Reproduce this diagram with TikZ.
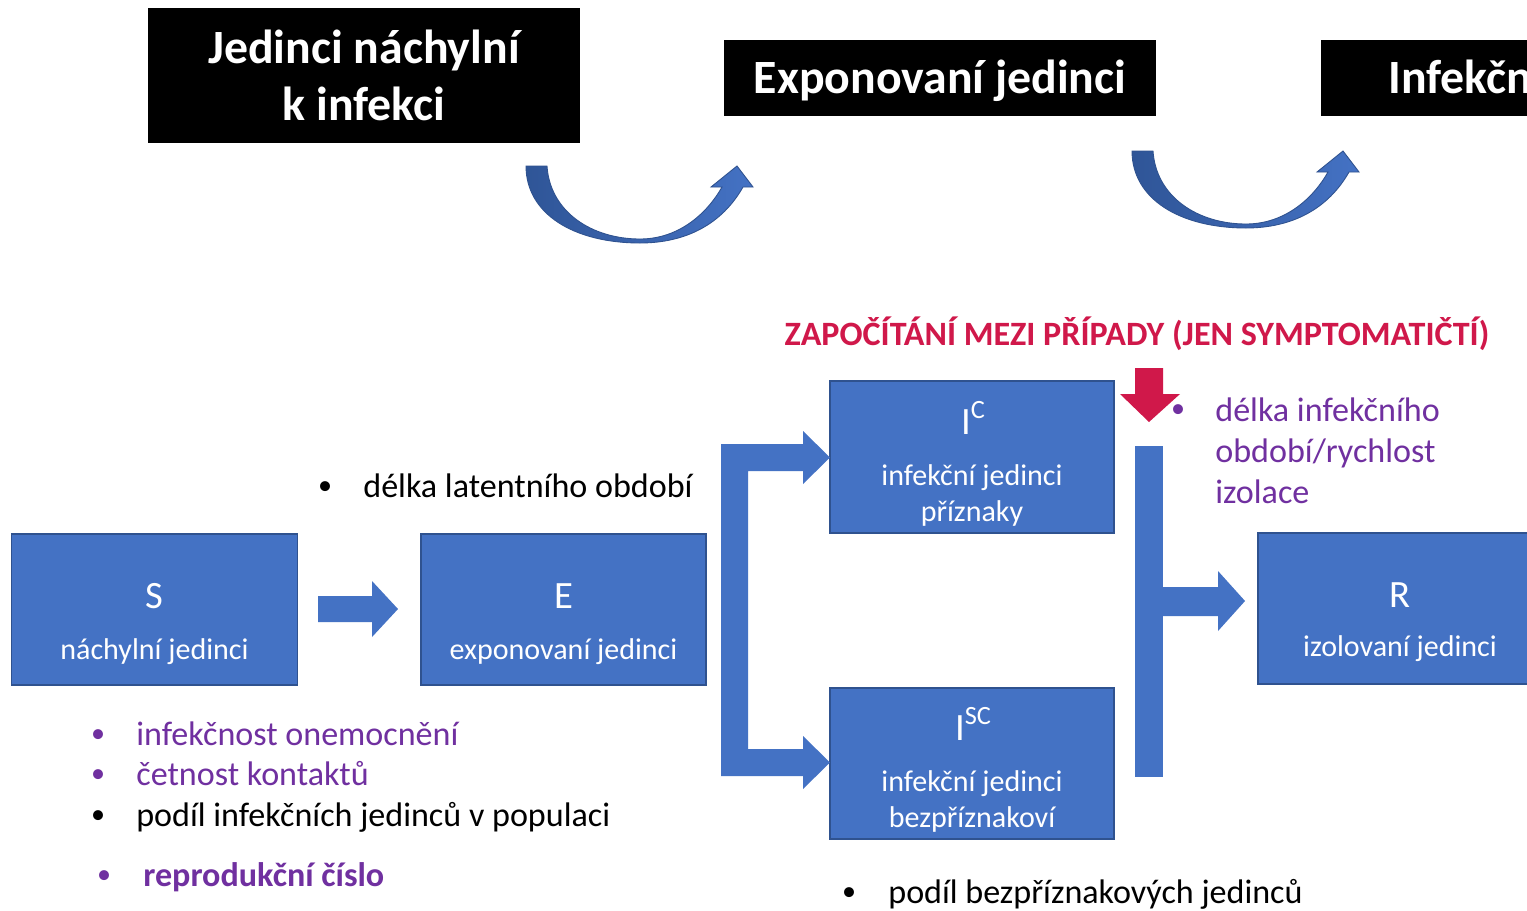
\documentclass[tikz,border=0pt]{standalone}
\usepackage{fontspec}
\setmainfont{Carlito}
\definecolor{boxblue}{HTML}{4472C4}
\definecolor{boxborder}{HTML}{2F528F}
\definecolor{arrowdark}{HTML}{2F5597}
\definecolor{redc}{HTML}{D0184A}
\definecolor{purp}{HTML}{7030A0}
\newcommand\boxfont{\fontsize{17.1}{20}\selectfont}
\newcommand\letterfont{\fontsize{22}{24}\selectfont}
\newcommand\supfont{\fontsize{15}{16}\selectfont}
\newcommand\sidefont{\fontsize{19.4}{23}\selectfont}
\newcommand\bulfont{\fontsize{16}{20}\selectfont}
\newcommand\titlefont{\fontsize{27.2}{32}\selectfont\bfseries}
\newcommand\supc[1]{\raisebox{0.4em}{\supfont #1}}
\tikzset{
  sirbox/.style={draw=boxborder, fill=boxblue, line width=0.8pt, inner sep=0pt},
  blackbox/.style={fill=black, inner sep=0pt},
  boxtext/.style={text=white, font=\boxfont, inner sep=0pt, anchor=base},
  lettertext/.style={text=white, font=\letterfont, inner sep=0pt, anchor=base},
  titletext/.style={text=white, font=\titlefont, inner sep=0pt, anchor=base},
  sidetext/.style={font=\sidefont, inner sep=0pt, anchor=base west},
  bullet/.style={font=\bulfont, inner sep=0pt, anchor=center},
  blockarrow/.style={fill=boxblue},
  curvedarrow/.style={left color=arrowdark, right color=boxblue, draw=boxborder, line width=0.5pt}
}
\begin{document}
\begin{tikzpicture}[x=0.02cm, y=-0.02cm]
\useasboundingbox (0,0) rectangle (1527,910);
\clip (0,0) rectangle (1527,910);
\fill[white] (0,0) rectangle (1527,910);

% title boxes
\node[blackbox, minimum width=8.64cm, minimum height=2.7cm] (t1) at (364,75.5) {};
\node[blackbox, minimum width=8.64cm, minimum height=1.52cm] (t2) at (940,78) {};
\node[blackbox, minimum width=8.64cm, minimum height=1.52cm] (t3) at (1537,78) {};
\node[titletext] (t1a) at (364,63) {Jedinci náchylní};
\node[titletext] (t1b) at (364,120) {k infekci};
\node[titletext] (t2a) at (940,93) {Exponovaní jedinci};
\node[titletext] (t3a) at (1537,93) {Infekční jedinci};

% curved arrows
\foreach \dx/\dy in {0/0, 606/-15}{
\begin{scope}[shift={(\dx,\dy)}]
\path[curvedarrow] (526,166) -- (547,166)
  .. controls (550,212) and (592,239) .. (640,239)
  .. controls (680,239) and (708,212) .. (722,187)
  -- (711,187) -- (737,166) -- (753,187) -- (743,187)
  .. controls (722,224) and (686,243) .. (640,243)
  .. controls (574,243) and (526,214) .. (526,166) -- cycle;
\end{scope}}

% SEIR boxes
\node[sirbox, minimum width=5.72cm, minimum height=3.02cm] (S) at (154.5,609.5) {};
\node[sirbox, minimum width=5.70cm, minimum height=3.02cm] (E) at (563.5,609.5) {};
\node[sirbox, minimum width=5.68cm, minimum height=3.04cm] (IC) at (972,457) {};
\node[sirbox, minimum width=5.68cm, minimum height=3.02cm] (ISC) at (972,763.5) {};
\node[sirbox, minimum width=5.68cm, minimum height=3.02cm] (R) at (1400,608.5) {};

\node[lettertext] (Sl) at (154.5,608) {S};
\node[boxtext] (St) at (154.5,659) {náchylní jedinci};
\node[lettertext] (El) at (563.5,608) {E};
\node[boxtext] (Et) at (563.5,659) {exponovaní jedinci};
\node[lettertext] (ICl) at (973,434) {I\supc{C}};
\node[boxtext] (ICt) at (972,485) {infekční jedinci};
\node[boxtext] (ICt2) at (972,521) {příznaky};
\node[lettertext] (ISCl) at (973,740) {I\supc{SC}};
\node[boxtext] (ISCt) at (972,791) {infekční jedinci};
\node[boxtext] (ISCt2) at (972,827) {bezpříznakoví};
\node[lettertext] (Rl) at (1400,607) {R};
\node[boxtext] (Rt) at (1400,656) {izolovaní jedinci};

% block arrows
\fill[blockarrow] (318,596) -- (372,596) -- (372,581) -- (398,609) -- (372,637) -- (372,622) -- (318,622) -- cycle;
\fill[blockarrow] (721,444) -- (803,444) -- (803,431) -- (830,457.5) -- (803,484) -- (803,471)
  -- (748,471) -- (748,749) -- (803,749) -- (803,736) -- (830,762.5) -- (803,789) -- (803,776)
  -- (721,776) -- cycle;
\fill[blockarrow] (1135,446) rectangle (1163,777);
\fill[blockarrow] (1163,587) -- (1218,587) -- (1218,571) -- (1245,601) -- (1218,631) -- (1218,616) -- (1163,616) -- cycle;
\fill[redc] (1135,368) -- (1163,368) -- (1163,394) -- (1180,394) -- (1149,422) -- (1120,394) -- (1135,394) -- cycle;

% texts
\node[inner sep=0pt, anchor=base, text=redc, font=\fontsize{19.4}{23}\selectfont\bfseries] (red) at (1137,345) {ZAPOČÍTÁNÍ MEZI PŘÍPADY (JEN SYMPTOMATIČTÍ)};

\node[bullet, text=purp] (b1) at (1178,411) {•};
\node[sidetext, text=purp] (inf1) at (1215,421) {délka infekčního};
\node[sidetext, text=purp] (inf2) at (1215,462) {období/rychlost};
\node[sidetext, text=purp] (inf3) at (1215,503) {izolace};

\node[bullet] (b2) at (325,488) {•};
\node[sidetext] (lat) at (363,497) {délka latentního období};

\node[bullet, text=purp] (b3) at (98,736) {•};
\node[sidetext, text=purp] (l1) at (136,745) {infekčnost onemocnění};
\node[bullet, text=purp] (b4) at (98,776) {•};
\node[sidetext, text=purp] (l2) at (136,785) {četnost kontaktů};
\node[bullet] (b5) at (98,817) {•};
\node[sidetext] (l3) at (136,826) {podíl infekčních jedinců v populaci};
\node[bullet, text=purp] (b6) at (104,877) {•};
\node[sidetext, text=purp, font=\sidefont\bfseries] (l4) at (143,886) {reprodukční číslo};

\node[bullet] (b7) at (849,894) {•};
\node[sidetext] (bez) at (888,903) {podíl bezpříznakových jedinců};
\end{tikzpicture}
\end{document}
